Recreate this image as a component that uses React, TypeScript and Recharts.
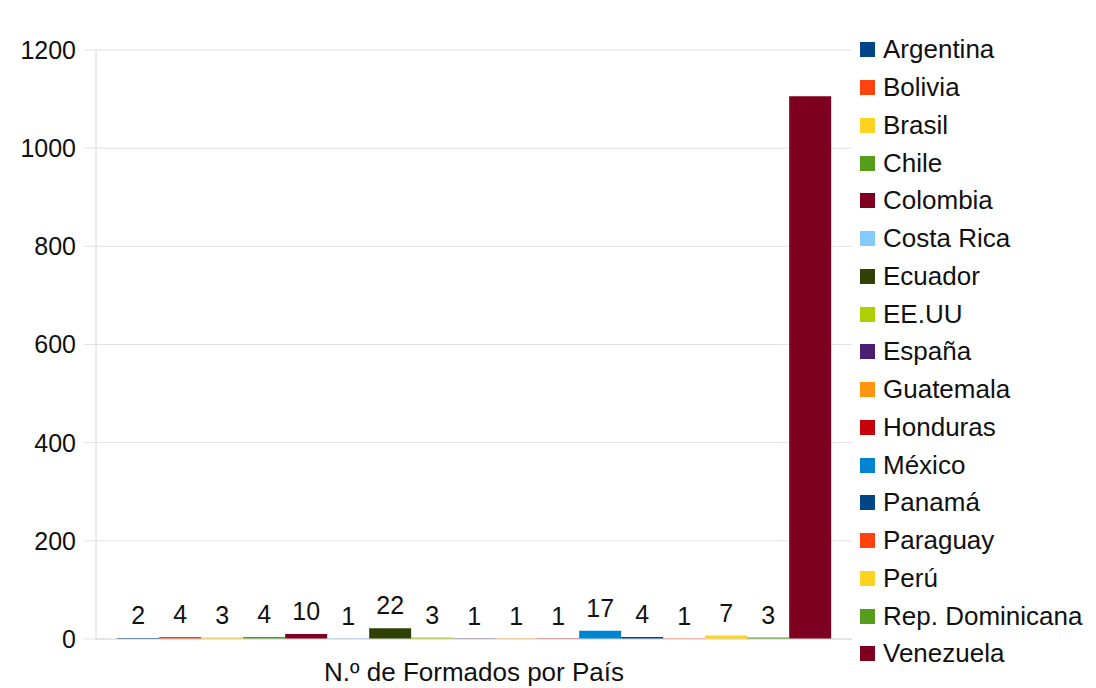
import React from "react";
import { BarChart, Bar, XAxis, YAxis, CartesianGrid, Legend, LabelList } from "recharts";

const category = "N.º de Formados por País";

const countries = [
  "Argentina",
  "Bolivia",
  "Brasil",
  "Chile",
  "Colombia",
  "Costa Rica",
  "Ecuador",
  "EE.UU",
  "España",
  "Guatemala",
  "Honduras",
  "México",
  "Panamá",
  "Paraguay",
  "Perú",
  "Rep. Dominicana",
  "Venezuela",
];

const graduates = [2, 4, 3, 4, 10, 1, 22, 3, 1, 1, 1, 17, 4, 1, 7, 3, 1106];

const colors = [
  "#004586",
  "#ff420e",
  "#ffd320",
  "#579d1c",
  "#7e0021",
  "#83caff",
  "#314004",
  "#aecf00",
  "#4b1f6f",
  "#ff950e",
  "#c5000b",
  "#0084d1",
  "#004586",
  "#ff420e",
  "#ffd320",
  "#579d1c",
  "#7e0021",
];

const yTicks = [0, 200, 400, 600, 800, 1000, 1200];

const row: Record<string, string | number> = { name: category };
countries.forEach((c, i) => {
  row[c] = graduates[i];
});
const data = [row];

const font = "'Liberation Sans', Arial, sans-serif";
const fs = 25;

// legend keeps the sheet order (recharts would sort it by name)
function renderLegend() {
  return (
    <div style={{ fontFamily: font, fontSize: 26, color: "#111" }}>
      {countries.map((c, i) => (
        <div
          key={c}
          style={{ display: "flex", alignItems: "center", height: 37.75, whiteSpace: "nowrap" }}
        >
          <span
            style={{
              display: "inline-block",
              width: 15,
              height: 15,
              background: colors[i],
              marginRight: 8,
            }}
          />
          <span>{c}</span>
        </div>
      ))}
    </div>
  );
}

export default function App() {
  return (
    <div style={{ position: "absolute", left: 0, top: 0, background: "#fff" }}>
      <BarChart
        width={1096}
        height={688}
        data={data}
        margin={{ top: 50, right: 8, bottom: 0, left: 0 }}
        barCategoryGap="2.8%"
        barGap={0}
      >
        <CartesianGrid vertical={false} stroke="#e3e3e3" />
        <XAxis
          dataKey="name"
          height={49}
          axisLine={{ stroke: "#d8d8d8" }}
          tickLine={false}
          tickSize={0}
          tickMargin={24}
          tick={{ fontSize: 26, fill: "#111", fontFamily: font }}
        />
        <YAxis
          width={96}
          domain={[0, 1200]}
          ticks={yTicks}
          axisLine={{ stroke: "#d8d8d8" }}
          tickLine={{ stroke: "#e3e3e3" }}
          tickSize={12}
          tickMargin={8}
          tick={{ fontSize: fs, fill: "#111", fontFamily: font }}
        />
        <Legend
          layout="vertical"
          align="right"
          verticalAlign="top"
          content={renderLegend}
          wrapperStyle={{ position: "absolute", left: 860, top: 31, width: 236 }}
        />
        {countries.map((c, i) => (
          <Bar key={c} dataKey={c} name={c} fill={colors[i]} isAnimationActive={false}>
            {i < countries.length - 1 && (
              <LabelList
                dataKey={c}
                position="top"
                offset={14}
                style={{ fontSize: fs, fill: "#111", fontFamily: font }}
              />
            )}
          </Bar>
        ))}
      </BarChart>
    </div>
  );
}
